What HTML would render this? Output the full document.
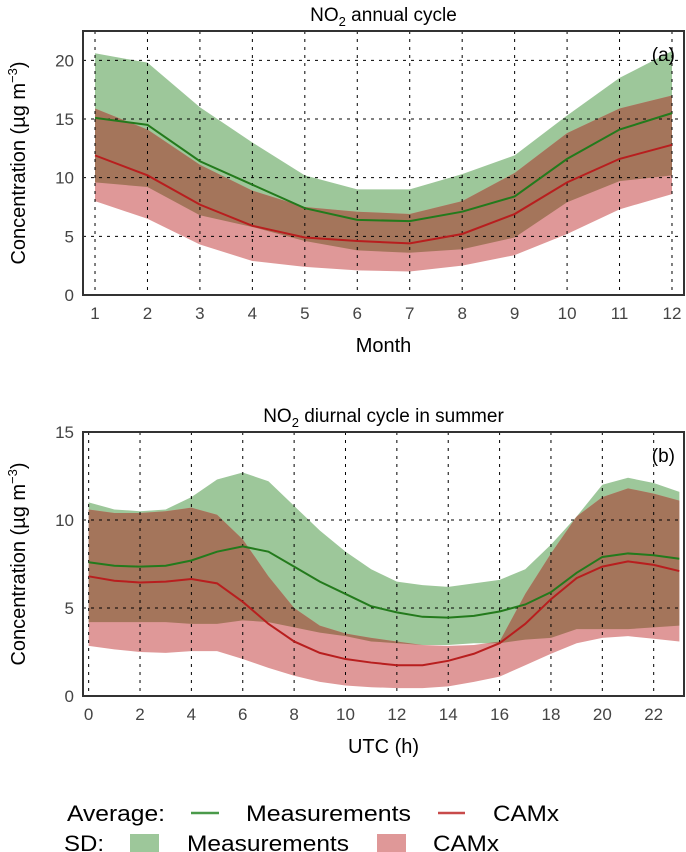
<!DOCTYPE html>
<html><head><meta charset="utf-8">
<style>
html,body{margin:0;padding:0;background:#fff;}
svg{display:block;font-family:"Liberation Sans",sans-serif;}
</style></head>
<body>
<svg id="c" width="686" height="852" viewBox="0 0 686 852" xmlns="http://www.w3.org/2000/svg">
<defs></defs>
<g id="top"></g>
<g id="bot"></g>
<g id="legend">
  <text x="67" y="821" font-size="22" textLength="98" lengthAdjust="spacingAndGlyphs">Average:</text>
  <line x1="191" y1="813" x2="219" y2="813" stroke="#4a9a4a" stroke-width="2.5"/>
  <text x="246" y="821" font-size="22" textLength="165" lengthAdjust="spacingAndGlyphs">Measurements</text>
  <line x1="438" y1="813" x2="465" y2="813" stroke="#c84a4a" stroke-width="2.5"/>
  <text x="493" y="821" font-size="22" textLength="66" lengthAdjust="spacingAndGlyphs">CAMx</text>
  <text x="64" y="851" font-size="22" textLength="40" lengthAdjust="spacingAndGlyphs">SD:</text>
  <rect x="130" y="834" width="29" height="22" fill="#9dc79a"/>
  <text x="187" y="851" font-size="22" textLength="162" lengthAdjust="spacingAndGlyphs">Measurements</text>
  <rect x="377" y="834" width="29" height="22" fill="#df9898"/>
  <text x="433" y="851" font-size="22" textLength="66" lengthAdjust="spacingAndGlyphs">CAMx</text>
</g>
</svg>
<script>
// ---- Panel (a): annual cycle ----
const months = [1,2,3,4,5,6,7,8,9,10,11,12];
const measMeanA = [15.1,14.5,11.4,9.4,7.4,6.4,6.3,7.1,8.4,11.6,14.1,15.5];
const measUpA   = [20.6,19.8,16.0,13.0,10.2,9.0,9.0,10.3,11.9,15.3,18.5,20.8];
const measLoA   = [9.6,9.2,6.8,5.8,4.6,3.8,3.6,3.9,4.9,7.9,9.7,10.2];
const camxMeanA = [11.9,10.2,7.7,5.9,4.9,4.6,4.4,5.2,6.9,9.6,11.6,12.8];
const camxUpA   = [15.9,14.1,11.1,8.9,7.5,7.1,6.9,8.0,10.4,13.8,15.9,17.0];
const camxLoA   = [8.0,6.5,4.3,2.9,2.4,2.1,2.0,2.5,3.4,5.2,7.3,8.6];
const yTicksA = [0,5,10,15,20];

// ---- Panel (b): diurnal cycle ----
const hours = [0,1,2,3,4,5,6,7,8,9,10,11,12,13,14,15,16,17,18,19,20,21,22,23];
const measMeanB = [7.6,7.4,7.35,7.4,7.7,8.2,8.5,8.2,7.35,6.5,5.8,5.1,4.75,4.5,4.45,4.55,4.8,5.2,5.9,7.0,7.9,8.1,8.0,7.8];
const measUpB   = [11.0,10.6,10.5,10.6,11.3,12.3,12.7,12.2,10.8,9.4,8.2,7.2,6.5,6.3,6.2,6.4,6.6,7.2,8.6,10.2,12.0,12.4,12.1,11.6];
const measLoB   = [4.2,4.2,4.2,4.2,4.1,4.1,4.3,4.2,3.9,3.6,3.4,3.1,3.0,2.9,2.9,3.0,3.0,3.2,3.3,3.8,3.8,3.8,3.9,4.0];
const camxMeanB = [6.8,6.55,6.45,6.5,6.65,6.4,5.35,4.1,3.1,2.45,2.1,1.9,1.75,1.75,2.0,2.4,3.0,4.1,5.5,6.7,7.35,7.65,7.45,7.1];
const camxUpB   = [10.6,10.4,10.4,10.5,10.7,10.3,8.9,6.8,5.0,4.0,3.55,3.3,3.1,2.9,2.85,2.9,3.1,5.8,8.1,10.2,11.3,11.8,11.5,11.1];
const camxLoB   = [2.85,2.65,2.5,2.45,2.55,2.55,2.1,1.6,1.15,0.8,0.6,0.5,0.45,0.45,0.55,0.8,1.1,1.75,2.4,3.0,3.3,3.4,3.25,3.1];
const xTicksB = [0,2,4,6,8,10,12,14,16,18,20,22];
const yTicksB = [0,5,10,15];

const NS = "http://www.w3.org/2000/svg";
const svg = document.getElementById('c');
const defs = svg.querySelector('defs');
function mk(tag, attrs, parent){
  const e = document.createElementNS(NS, tag);
  for (const k in attrs) e.setAttribute(k, attrs[k]);
  parent.appendChild(e);
  return e;
}
function bandPts(xs, up, lo, X, Y){
  const a = xs.map((x,i)=>X(x)+','+Y(up[i]));
  const b = xs.map((x,i)=>X(x)+','+Y(lo[i])).reverse();
  return a.concat(b).join(' ');
}
function linePts(xs, ys, X, Y){ return xs.map((x,i)=>X(x)+','+Y(ys[i])).join(' '); }

function panel(g, id, box, xs, xDom, yDom, xTicks, yTicks, mMean, mUp, mLo, cMean, cUp, cLo, title, xlabel, tag){
  const X = v => box.l + (v - xDom[0])/(xDom[1]-xDom[0])*(box.r-box.l);
  const Y = v => box.b - (v - yDom[0])/(yDom[1]-yDom[0])*(box.b-box.t);
  const cp = mk('clipPath', {id:'clip'+id}, defs);
  mk('polygon', {points: bandPts(xs, cUp, cLo, X, Y)}, cp);
  const cpBox = mk('clipPath', {id:'box'+id}, defs);
  mk('rect', {x:box.l, y:box.t, width:box.r-box.l, height:box.b-box.t}, cpBox);
  const inner = mk('g', {'clip-path':'url(#box'+id+')'}, g);
  let e;
  e = mk('polygon', {points: bandPts(xs, mUp, mLo, X, Y), fill:'#9dc79a'}, inner);
  
  
  e = mk('polygon', {points: bandPts(xs, cUp, cLo, X, Y), fill:'#df9898'}, inner);
  
  
  e = mk('polygon', {points: bandPts(xs, mUp, mLo, X, Y), fill:'#a4755b', 'clip-path':'url(#clip'+id+')'}, inner);
  
  
  xTicks.forEach(t=>{
    e = mk('line', {x1:X(t), x2:X(t), y1:box.t, y2:box.b, stroke:'#000', 'stroke-width':1, 'stroke-dasharray':'3,5'}, inner);
    
    
  });
  yTicks.forEach(t=>{
    e = mk('line', {x1:box.l, x2:box.r, y1:Y(t), y2:Y(t), stroke:'#000', 'stroke-width':1, 'stroke-dasharray':'3,5'}, inner);
    
    
  });
  e = mk('polyline', {points: linePts(xs, mMean, X, Y), fill:'none', stroke:'#237a1c', 'stroke-width':2}, inner);
  
  
  e = mk('polyline', {points: linePts(xs, cMean, X, Y), fill:'none', stroke:'#b81e1e', 'stroke-width':2}, inner);
  
  
  e = mk('rect', {x:box.l, y:box.t, width:box.r-box.l, height:box.b-box.t, fill:'none', stroke:'#333', 'stroke-width':2}, g);
  
  
  xTicks.forEach(t=>{
    e = mk('text', {x:X(t), y:box.b+24, 'font-size':17, fill:'#444', 'text-anchor':'middle'}, g);
    e.textContent = t;
    
    
  });
  yTicks.forEach(t=>{
    e = mk('text', {x:box.l-9, y:Y(t)+6, 'font-size':17, fill:'#444', 'text-anchor':'end'}, g);
    e.textContent = t;
    
    
  });
  e = mk('text', {x:(box.l+box.r)/2, y:box.t-10, 'font-size':19, 'text-anchor':'middle'}, g);
  e.innerHTML = title[0] + '<tspan font-size="13" dy="5">2</tspan><tspan dy="-5">' + title[1] + '</tspan>';
  
  
  e = mk('text', {x:box.r-9, y:box.t+30, 'font-size':19, 'text-anchor':'end'}, g);
  e.textContent = tag;
  
  
  e = mk('text', {x:(box.l+box.r)/2, y:box.b+57, 'font-size':20, 'text-anchor':'middle'}, g);
  e.textContent = xlabel;
  
  
  const cy = (box.t+box.b)/2;
  e = mk('text', {x:0, y:0, 'font-size':20, 'text-anchor':'middle', transform:'translate(25,'+cy+') rotate(-90)'}, g);
  e.innerHTML = 'Concentration (µg m<tspan font-size="13" dy="-8">−3</tspan><tspan dy="8">)</tspan>';
  
  
}

panel(document.getElementById('top'), 'a', {l:83, r:684, t:31, b:295}, months, [0.771, 12.229], [0,22.5],
  months, yTicksA, measMeanA, measUpA, measLoA, camxMeanA, camxUpA, camxLoA, ['NO', ' annual cycle'], 'Month', '(a)');
panel(document.getElementById('bot'), 'b', {l:83, r:684, t:432, b:696}, hours, [-0.22, 23.18], [0,15],
  xTicksB, yTicksB, measMeanB, measUpB, measLoB, camxMeanB, camxUpB, camxLoB, ['NO', ' diurnal cycle in summer'], 'UTC (h)', '(b)');
</script>
</body></html>
